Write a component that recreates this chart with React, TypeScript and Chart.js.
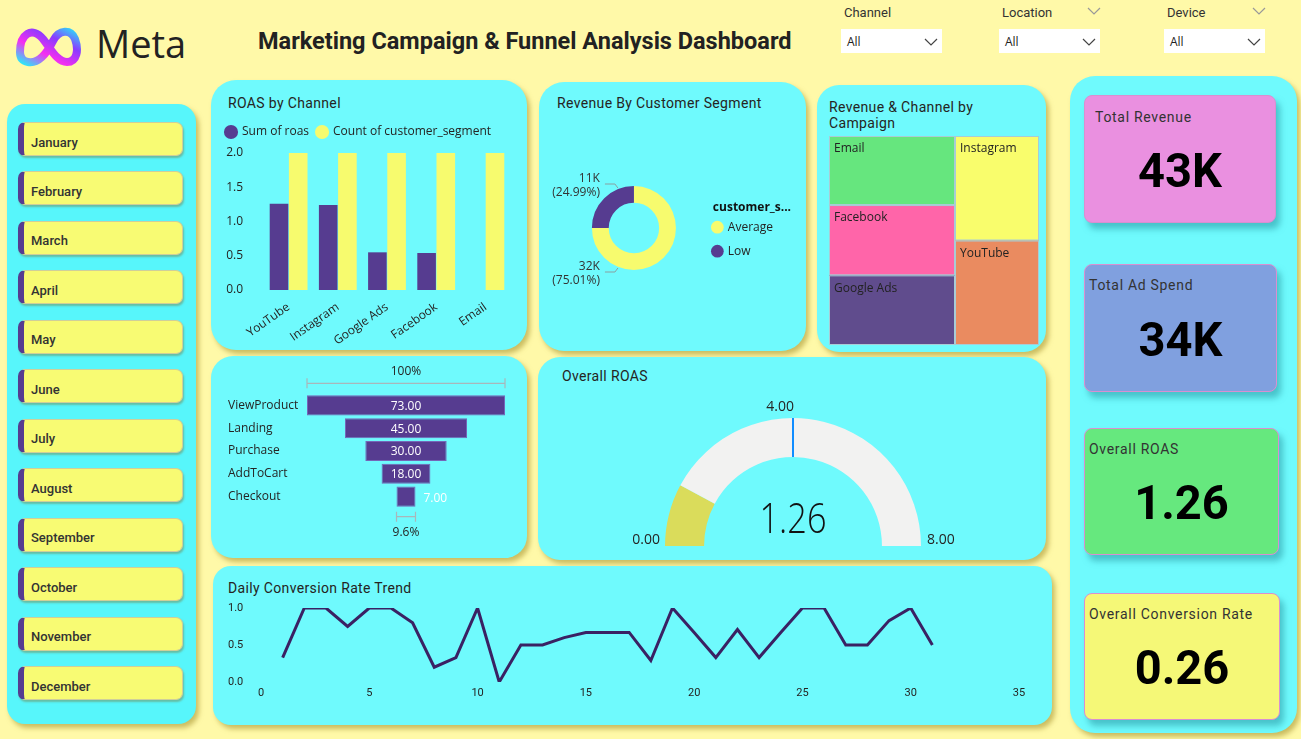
import React, { useEffect, useRef } from "react";
import { Chart, registerables } from "chart.js";
Chart.register(...registerables);

// ---------- fonts & colours ----------
const TITLE_FONT = "Roboto, 'DejaVu Sans', sans-serif";
const LABEL_FONT = "'Open Sans', 'Noto Sans', sans-serif";
const PAGE_BG = "#FFF9A8";
const PANEL_BG = "#6FFAFD";
const SLICER_BG = "#57F6FB";
const PURPLE = "#563C90";
const YELLOW = "#F7FB6E";
const TEXT = "#252423";
const SHADOW = "3px 4px 5px rgba(160,140,40,0.55)";

// ---------- data ----------
const months = ["January", "February", "March", "April", "May", "June", "July", "August", "September", "October", "November", "December"];
const filterNames = ["Channel", "Location", "Device"];
const filterValues = ["All", "All", "All"];

const channels = ["YouTube", "Instagram", "Google Ads", "Facebook", "Email"];
const roasByChannel = [1.26, 1.24, 0.55, 0.54, 0];
const segmentCountByChannel = [2, 2, 2, 2, 2];

const segmentLegendTitle = "customer_s...";
const segments = ["Average", "Low"];
const segmentRevenue = [32254, 10746];

const campaignChannels = ["Email", "Facebook", "Google Ads", "Instagram", "YouTube"];
const campaignRevenue = [8560, 8720, 8640, 8640, 8640];
const campaignColumn = [0, 0, 0, 1, 1];
const campaignColors = ["#66E67E", "#FF65A9", "#604C8D", "#F9FD6C", "#EA8B60"];

const funnelStages = ["ViewProduct", "Landing", "Purchase", "AddToCart", "Checkout"];
const funnelValues = [73, 45, 30, 18, 7];

const gaugeValue = 1.26;
const gaugeMin = 0;
const gaugeMax = 8;
const gaugeTarget = 4;

const days = [1, 2, 3, 4, 5, 6, 7, 8, 9, 10, 11, 12, 13, 14, 15, 16, 17, 18, 19, 20, 21, 22, 23, 24, 25, 26, 27, 28, 29, 30, 31];
const conversionRate = [0.33, 1, 1, 0.75, 1, 1, 0.8, 0.2, 0.33, 1, 0, 0.5, 0.5, 0.6, 0.67, 0.67, 0.67, 0.29, 1, 0.67, 0.33, 0.71, 0.33, 0.67, 1, 1, 0.5, 0.5, 0.83, 1, 0.5];

const kpiTitles = ["Total Revenue", "Total Ad Spend", "Overall ROAS", "Overall Conversion Rate"];
const kpiValues = ["43K", "34K", "1.26", "0.26"];

Chart.defaults.font.family = LABEL_FONT;
Chart.defaults.color = TEXT;

// ---------- helpers ----------
function ChartCanvas({ make, left, top, width, height }: any) {
  const ref = useRef<HTMLCanvasElement>(null);
  useEffect(() => {
    const chart = new Chart(ref.current as HTMLCanvasElement, make());
    return () => chart.destroy();
  }, []);
  return (
    <canvas
      ref={ref}
      width={width}
      height={height}
      style={{ position: "absolute", left, top, width, height }}
    />
  );
}

function Txt({ x, y, size = 14, weight = 400, color = TEXT, font = TITLE_FONT, children, ls = 0 }: any) {
  return (
    <div
      style={{
        position: "absolute",
        left: x,
        top: y - size * 0.65,
        height: size * 1.3,
        lineHeight: `${size * 1.3}px`,
        fontSize: size,
        fontWeight: weight,
        color,
        fontFamily: font,
        whiteSpace: "nowrap",
        letterSpacing: ls,
      }}
    >
      {children}
    </div>
  );
}

function Box({ l, t, w, h, r = 22, bg = PANEL_BG, shadow = SHADOW, extra = {} }: any) {
  return (
    <div
      style={{
        position: "absolute",
        left: l,
        top: t,
        width: w,
        height: h,
        background: bg,
        borderRadius: r,
        boxShadow: shadow,
        boxSizing: "border-box",
        ...extra,
      }}
    />
  );
}

function Chevron({ x, y, color = "#555" }: any) {
  return (
    <svg style={{ position: "absolute", left: x, top: y }} width="14" height="8" viewBox="0 0 14 8">
      <polyline points="1,1 7,7 13,1" fill="none" stroke={color} strokeWidth="1.2" />
    </svg>
  );
}

// ---------- charts ----------
const legendGap = {
  id: "legendGap",
  beforeInit(chart: any) {
    const legend = chart.legend;
    if (!legend) return;
    const origFit = legend.fit;
    legend.fit = function () {
      origFit.bind(legend)();
      this.height += 5;
    };
  },
};

function roasConfig(): any {
  return {
    type: "bar",
    data: {
      labels: channels,
      datasets: [
        { label: "Sum of roas", data: roasByChannel, backgroundColor: PURPLE },
        { label: "Count of customer_segment", data: segmentCountByChannel, backgroundColor: YELLOW },
      ],
    },
    options: {
      animation: false,
      responsive: false,
      layout: { padding: { left: 6, right: 10, top: 0, bottom: 0 } },
      datasets: { bar: { categoryPercentage: 0.78, barPercentage: 0.97 } },
      plugins: {
        tooltip: { enabled: false },
        legend: {
          position: "top",
          align: "start",
          labels: {
            usePointStyle: true,
            pointStyle: "circle",
            boxWidth: 10,
            boxHeight: 10,
            padding: 8,
            color: TEXT,
            font: { size: 12, family: LABEL_FONT },
          },
        },
      },
      scales: {
        x: {
          grid: { display: false },
          border: { display: false },
          ticks: { minRotation: 35, maxRotation: 35, padding: 2, color: TEXT, font: { size: 12 } },
          afterFit: (s: any) => { s.height = 60; },
        },
        y: {
          min: 0,
          max: 2,
          grid: { display: false, drawTicks: false },
          border: { display: false },
          ticks: { stepSize: 0.5, padding: 21, color: TEXT, font: { size: 12 }, callback: (v: any) => Number(v).toFixed(1) },
          afterFit: (s: any) => { s.width = 46; },
        },
      },
    },
    plugins: [legendGap],
  };
}

const donutLabels = {
  id: "donutLabels",
  afterDraw(chart: any) {
    const meta = chart.getDatasetMeta(0);
    const total = segmentRevenue.reduce((a, b) => a + b, 0);
    const ctx = chart.ctx;
    ctx.save();
    ctx.font = `12px ${LABEL_FONT}`;
    ctx.fillStyle = "#333";
    ctx.textAlign = "right";
    ctx.textBaseline = "middle";
    meta.data.forEach((arc: any, i: number) => {
      const p = arc.getProps(["x", "y", "startAngle", "endAngle", "outerRadius"], true);
      const mid = (p.startAngle + p.endAngle) / 2;
      const side = Math.sin(mid) < 0 ? -1 : 1;
      const ly = p.y + side * (p.outerRadius + 2) + 2;
      const tx = p.x - 34;
      const v = segmentRevenue[i];
      ctx.fillText(`${Math.round(v / 1000)}K`, tx, ly - 7);
      ctx.fillText(`(${((v / total) * 100).toFixed(2)}%)`, tx, ly + 7);
      const lineY = ly - 2;
      ctx.strokeStyle = "#8aa0a0";
      ctx.lineWidth = 1;
      ctx.beginPath();
      ctx.moveTo(tx + 5, lineY);
      ctx.lineTo(tx + 15, lineY);
      ctx.lineTo(tx + 18, lineY - side * 4);
      ctx.stroke();
    });
    // legend title, left-aligned with the legend markers
    const lg = chart.legend;
    if (lg && lg.legendHitBoxes && lg.legendHitBoxes.length) {
      const hb = lg.legendHitBoxes[0];
      ctx.textAlign = "left";
      ctx.fillStyle = "#111";
      ctx.font = `bold 12px ${LABEL_FONT}`;
      ctx.fillText(segmentLegendTitle, hb.left, hb.top - 14);
    }
    ctx.restore();
  },
};

function donutConfig(): any {
  return {
    type: "doughnut",
    data: {
      labels: segments,
      datasets: [{ data: segmentRevenue, backgroundColor: [YELLOW, PURPLE], borderWidth: 0 }],
    },
    options: {
      animation: false,
      responsive: false,
      radius: 42,
      cutout: "60%",
      layout: { padding: { left: 18, right: 26, top: 0, bottom: 0 } },
      plugins: {
        tooltip: { enabled: false },
        legend: {
          position: "right",
          title: { display: true, text: "", font: { size: 12, weight: "bold" }, padding: { top: 14, bottom: -6 }, position: "start" },
          labels: {
            usePointStyle: true,
            pointStyle: "circle",
            boxWidth: 9,
            boxHeight: 9,
            padding: 12,
            color: TEXT,
            font: { size: 12 },
          },
        },
      },
    },
    plugins: [donutLabels],
  };
}

const treemapPlugin = {
  id: "treemap",
  afterDraw(chart: any) {
    const ctx = chart.ctx;
    const xs = chart.scales.x;
    const ys = chart.scales.y;
    const total = campaignRevenue.reduce((a, b) => a + b, 0);
    const nCols = Math.max(...campaignColumn) + 1;
    let x0 = 0;
    ctx.save();
    for (let c = 0; c < nCols; c++) {
      const idx = campaignColumn.map((col, i) => (col === c ? i : -1)).filter((i) => i >= 0);
      const colSum = idx.reduce((a, i) => a + campaignRevenue[i], 0);
      const w = colSum / total;
      let y0 = 0;
      idx.forEach((i) => {
        const h = campaignRevenue[i] / colSum;
        const px0 = xs.getPixelForValue(x0);
        const px1 = xs.getPixelForValue(x0 + w);
        const py0 = ys.getPixelForValue(y0);
        const py1 = ys.getPixelForValue(y0 + h);
        ctx.fillStyle = campaignColors[i];
        ctx.fillRect(px0, py0, px1 - px0, py1 - py0);
        ctx.strokeStyle = "#A8CCD6";
        ctx.lineWidth = 1;
        ctx.strokeRect(px0 + 0.5, py0 + 0.5, px1 - px0 - 1, py1 - py0 - 1);
        ctx.fillStyle = "#222";
        ctx.font = `12px ${LABEL_FONT}`;
        ctx.textBaseline = "middle";
        ctx.textAlign = "left";
        ctx.fillText(campaignChannels[i], px0 + 5, py0 + 13);
        y0 += h;
      });
      x0 += w;
    }
    ctx.restore();
  },
};

function treemapConfig(): any {
  return {
    type: "scatter",
    data: { datasets: [{ data: [] }] },
    options: {
      animation: false,
      responsive: false,
      layout: { padding: 0 },
      plugins: { legend: { display: false }, tooltip: { enabled: false } },
      scales: {
        x: { type: "linear", min: 0, max: 1, display: false },
        y: { type: "linear", min: 0, max: 1, display: false, reverse: true },
      },
    },
    plugins: [treemapPlugin],
  };
}

const funnelPlugin = {
  id: "funnelDecor",
  afterDatasetsDraw(chart: any) {
    const meta = chart.getDatasetMeta(0);
    const ctx = chart.ctx;
    ctx.save();
    ctx.font = `12px ${LABEL_FONT}`;
    ctx.textBaseline = "middle";
    ctx.fillStyle = "#FFFFFF";
    const boxes = meta.data.map((bar: any) => {
      const p = bar.getProps(["x", "base", "y", "height"], true);
      return { l: Math.min(p.x, p.base), r: Math.max(p.x, p.base), y: p.y, h: p.height };
    });
    boxes.forEach((b: any, i: number) => {
      const label = funnelValues[i].toFixed(2);
      const tw = ctx.measureText(label).width;
      if (tw + 8 < b.r - b.l) {
        ctx.textAlign = "center";
        ctx.fillText(label, (b.l + b.r) / 2, b.y + 1);
      } else {
        ctx.textAlign = "left";
        ctx.fillText(label, b.r + 8, b.y + 2);
      }
    });
    const first = boxes[0];
    const last = boxes[boxes.length - 1];
    const drawBracket = (l: number, r: number, y: number) => {
      ctx.strokeStyle = "#A9B6BA";
      ctx.lineWidth = 1.2;
      ctx.beginPath();
      ctx.moveTo(l, y);
      ctx.lineTo(r, y);
      ctx.moveTo(l, y - 5);
      ctx.lineTo(l, y + 5);
      ctx.moveTo(r, y - 5);
      ctx.lineTo(r, y + 5);
      ctx.stroke();
    };
    const topY = first.y - first.h / 2 - 12;
    drawBracket(first.l, first.r, topY);
    const botY = last.y + last.h / 2 + 10;
    drawBracket(last.l, last.r, botY);
    ctx.fillStyle = TEXT;
    ctx.textAlign = "center";
    ctx.fillText(`${Math.round((funnelValues[0] / funnelValues[0]) * 100)}%`, (first.l + first.r) / 2, topY - 12);
    ctx.fillText(`${((funnelValues[funnelValues.length - 1] / funnelValues[0]) * 100).toFixed(1)}%`, (last.l + last.r) / 2, botY + 16);
    ctx.restore();
  },
};

function funnelConfig(): any {
  const maxV = Math.max(...funnelValues);
  return {
    type: "bar",
    data: {
      labels: funnelStages,
      datasets: [
        {
          data: funnelValues.map((v) => [-v / 2, v / 2]),
          backgroundColor: PURPLE,
          borderColor: "#7566B8",
          borderWidth: 1,
          borderSkipped: false,
        },
      ],
    },
    options: {
      animation: false,
      responsive: false,
      indexAxis: "y",
      layout: { padding: { left: 6, right: 7, top: 34, bottom: 42 } },
      datasets: { bar: { categoryPercentage: 1, barPercentage: 0.88 } },
      plugins: { legend: { display: false }, tooltip: { enabled: false } },
      scales: {
        x: { min: -maxV / 2, max: maxV / 2, display: false },
        y: {
          grid: { display: false },
          border: { display: false },
          ticks: { crossAlign: "far", color: TEXT, font: { size: 12 } },
          afterFit: (s: any) => { s.width = 79; },
        },
      },
    },
    plugins: [funnelPlugin],
  };
}

const gaugePlugin = {
  id: "gaugeDecor",
  afterDraw(chart: any) {
    const arc = chart.getDatasetMeta(0).data[0];
    const p = arc.getProps(["x", "y", "innerRadius", "outerRadius"], true);
    const ctx = chart.ctx;
    const ang = -Math.PI + ((gaugeTarget - gaugeMin) / (gaugeMax - gaugeMin)) * Math.PI;
    ctx.save();
    ctx.strokeStyle = "#118DFF";
    ctx.lineWidth = 2;
    ctx.beginPath();
    ctx.moveTo(p.x + Math.cos(ang) * p.innerRadius, p.y + Math.sin(ang) * p.innerRadius);
    ctx.lineTo(p.x + Math.cos(ang) * p.outerRadius, p.y + Math.sin(ang) * p.outerRadius);
    ctx.stroke();
    ctx.fillStyle = TEXT;
    ctx.font = `14px ${LABEL_FONT}`;
    ctx.textBaseline = "middle";
    ctx.textAlign = "right";
    ctx.fillText(gaugeMin.toFixed(2), p.x - p.outerRadius - 5, p.y - 6);
    ctx.textAlign = "left";
    ctx.fillText(gaugeMax.toFixed(2), p.x + p.outerRadius + 6, p.y - 6);
    ctx.textAlign = "right";
    const tx = p.x + Math.cos(ang) * p.outerRadius;
    const ty = p.y + Math.sin(ang) * p.outerRadius;
    ctx.fillText(gaugeTarget.toFixed(2), tx + 1, ty - 11);
    ctx.translate(p.x, p.y - 25);
    ctx.scale(0.8, 1);
    ctx.font = `300 43px ${LABEL_FONT}`;
    ctx.textAlign = "center";
    ctx.fillStyle = "#111";
    ctx.fillText(gaugeValue.toFixed(2), 0, 0);
    ctx.restore();
  },
};

function gaugeConfig(): any {
  return {
    type: "doughnut",
    data: {
      labels: ["ROAS", "Remaining"],
      datasets: [
        {
          data: [gaugeValue - gaugeMin, gaugeMax - gaugeValue],
          backgroundColor: ["#DADC5B", "#F2F2F1"],
          borderWidth: 0,
        },
      ],
    },
    options: {
      animation: false,
      responsive: false,
      rotation: -90,
      circumference: 180,
      radius: 128,
      cutout: "69.5%",
      layout: { padding: { top: 24, bottom: 0, left: 0, right: 0 } },
      plugins: { legend: { display: false }, tooltip: { enabled: false } },
    },
    plugins: [gaugePlugin],
  };
}

function lineConfig(): any {
  return {
    type: "line",
    data: {
      datasets: [
        {
          data: days.map((d, i) => ({ x: d, y: conversionRate[i] })),
          borderColor: "#3A2163",
          borderWidth: 3,
          pointRadius: 0,
          tension: 0,
          fill: false,
        },
      ],
    },
    options: {
      animation: false,
      responsive: false,
      layout: { padding: { left: 8, right: 26, top: 10, bottom: 0 } },
      plugins: { legend: { display: false }, tooltip: { enabled: false } },
      scales: {
        x: {
          type: "linear",
          min: 0,
          max: 35,
          grid: { display: false, drawTicks: false },
          border: { display: false },
          ticks: { stepSize: 5, color: TEXT, font: { size: 11, family: TITLE_FONT }, padding: 5 },
          afterFit: (s: any) => { s.height = 24; },
        },
        y: {
          min: 0,
          max: 1,
          grid: { display: false, drawTicks: false },
          border: { display: false },
          ticks: { stepSize: 0.5, padding: 0, crossAlign: "far", color: TEXT, font: { size: 11, family: TITLE_FONT }, callback: (v: any) => Number(v).toFixed(1) },
          afterFit: (s: any) => { s.width = 33; },
        },
      },
    },
  };
}

// ---------- app ----------
export default function App() {
  const filterX = [841, 999, 1164];
  const kpiBoxes = [
    { l: 1084, t: 95, w: 192, h: 128, bg: "#EA90E0", tx: 1095, ty: 117, vy: 171 },
    { l: 1084, t: 264, w: 193, h: 128, bg: "#80A0DF", tx: 1089, ty: 285, vy: 340 },
    { l: 1084, t: 428, w: 195, h: 127, bg: "#66E87E", tx: 1089, ty: 449, vy: 503 },
    { l: 1084, t: 593, w: 196, h: 127, bg: "#F5F877", tx: 1089, ty: 614, vy: 668 },
  ];
  return (
    <div style={{ position: "fixed", left: 0, top: 0, width: 1301, height: 739, background: PAGE_BG, overflow: "hidden", fontFamily: TITLE_FONT }}>
      {/* header */}
      <svg style={{ position: "absolute", left: 12, top: 22 }} width="72" height="46" viewBox="0 0 72 46">
        <defs>
          <linearGradient id="metaGrad" x1="0" y1="1" x2="1" y2="0">
            <stop offset="0" stopColor="#2FE4F8" />
            <stop offset="0.35" stopColor="#F52EF0" />
            <stop offset="0.7" stopColor="#8A3BFF" />
            <stop offset="1" stopColor="#33D1F9" />
          </linearGradient>
        </defs>
        <path
          d="M8 30 C8 12, 20 4, 31 17 C39 27, 45 40, 55 40 C65 40, 67 28, 63 17 C59 7, 47 7, 41 19 C35 31, 27 42, 16 40 C10 39, 8 35, 8 30 Z"
          fill="none"
          stroke="url(#metaGrad)"
          strokeWidth="8"
          strokeLinejoin="round"
        />
      </svg>
      <Txt x={96} y={44} size={38} font={LABEL_FONT} color="#222">Meta</Txt>
      <Txt x={258} y={41} size={23.5} weight={700} color="#222">Marketing Campaign &amp; Funnel Analysis Dashboard</Txt>

      {filterNames.map((n, i) => (
        <React.Fragment key={n}>
          <Txt x={filterX[i] + 3} y={13} size={13} color="#333">{n}</Txt>
          <div style={{ position: "absolute", left: filterX[i], top: 29, width: 101, height: 24, background: "#fff" }} />
          <Txt x={filterX[i] + 6} y={42} size={12} font={LABEL_FONT} color="#222">{filterValues[i]}</Txt>
          <Chevron x={filterX[i] + 83} y={38} color="#444" />
          {i > 0 && <Chevron x={filterX[i] + 88} y={7} color="#999" />}
        </React.Fragment>
      ))}

      {/* month slicer */}
      <Box l={7} t={104} w={189} h={620} r={18} bg={SLICER_BG} />
      {months.map((m, i) => {
        const t = 122 + i * 49.45;
        return (
          <React.Fragment key={m}>
            <div
              style={{
                position: "absolute",
                left: 18,
                top: t,
                width: 165,
                height: 34,
                background: "#F8FB73",
                border: "1px solid #CFCF9A",
                borderLeft: `6px solid ${PURPLE}`,
                borderRadius: 7,
                boxSizing: "border-box",
                boxShadow: "1px 2px 2px rgba(120,120,60,0.45)",
              }}
            />
            <Txt x={31} y={t + 21} size={13} weight={500} color="#333">{m}</Txt>
          </React.Fragment>
        );
      })}

      {/* panels */}
      <Box l={211} t={80} w={316} h={270} r={25} />
      <Box l={539} t={82} w={267} h={269} r={25} />
      <Box l={817} t={85} w={229} h={267} r={22} />
      <Box l={211} t={356} w={316} h={202} r={22} />
      <Box l={538} t={357} w={508} h={203} r={22} />
      <Box l={213} t={566} w={839} h={159} r={18} />
      <Box l={1070} t={76} w={227} h={657} r={25} />

      <Txt x={228} y={103} size={14} ls={0.35}>ROAS by Channel</Txt>
      <Txt x={557} y={103} size={14} ls={0.35}>Revenue By Customer Segment</Txt>
      <Txt x={829} y={107} size={14} ls={0.35}>Revenue &amp; Channel by</Txt>
      <Txt x={829} y={123} size={14} ls={0.35}>Campaign</Txt>
      <Txt x={562} y={376} size={14} ls={0.35}>Overall ROAS</Txt>
      <Txt x={228} y={588} size={14} ls={0.35}>Daily Conversion Rate Trend</Txt>

      <ChartCanvas make={roasConfig} left={212} top={118} width={308} height={232} />
      <ChartCanvas make={donutConfig} left={549} top={128} width={260} height={200} />
      <ChartCanvas make={treemapConfig} left={829} top={136} width={210} height={209} />
      <ChartCanvas make={funnelConfig} left={222} top={360} width={290} height={190} />
      <ChartCanvas make={gaugeConfig} left={593} top={380} width={400} height={180} />
      <ChartCanvas make={lineConfig} left={220} top={598} width={825} height={108} />

      {/* KPI cards */}
      {kpiBoxes.map((k, i) => (
        <React.Fragment key={kpiTitles[i]}>
          <Box l={k.l} t={k.t} w={k.w} h={k.h} r={8} bg={k.bg} shadow="4px 6px 6px rgba(40,150,160,0.55)" extra={{ border: "1px solid #D98FD0" }} />
          <Txt x={k.tx} y={k.ty} size={14} weight={400} color="#333" ls={0.7}>{kpiTitles[i]}</Txt>
          <div
            style={{
              position: "absolute",
              left: k.l,
              width: k.w,
              top: k.vy - 32,
              height: 64,
              lineHeight: "64px",
              textAlign: "center",
              fontSize: 49,
              fontWeight: 700,
              color: "#000",
              fontFamily: TITLE_FONT,
              transform: "scaleX(0.96)",
            }}
          >
            {kpiValues[i]}
          </div>
        </React.Fragment>
      ))}
    </div>
  );
}
